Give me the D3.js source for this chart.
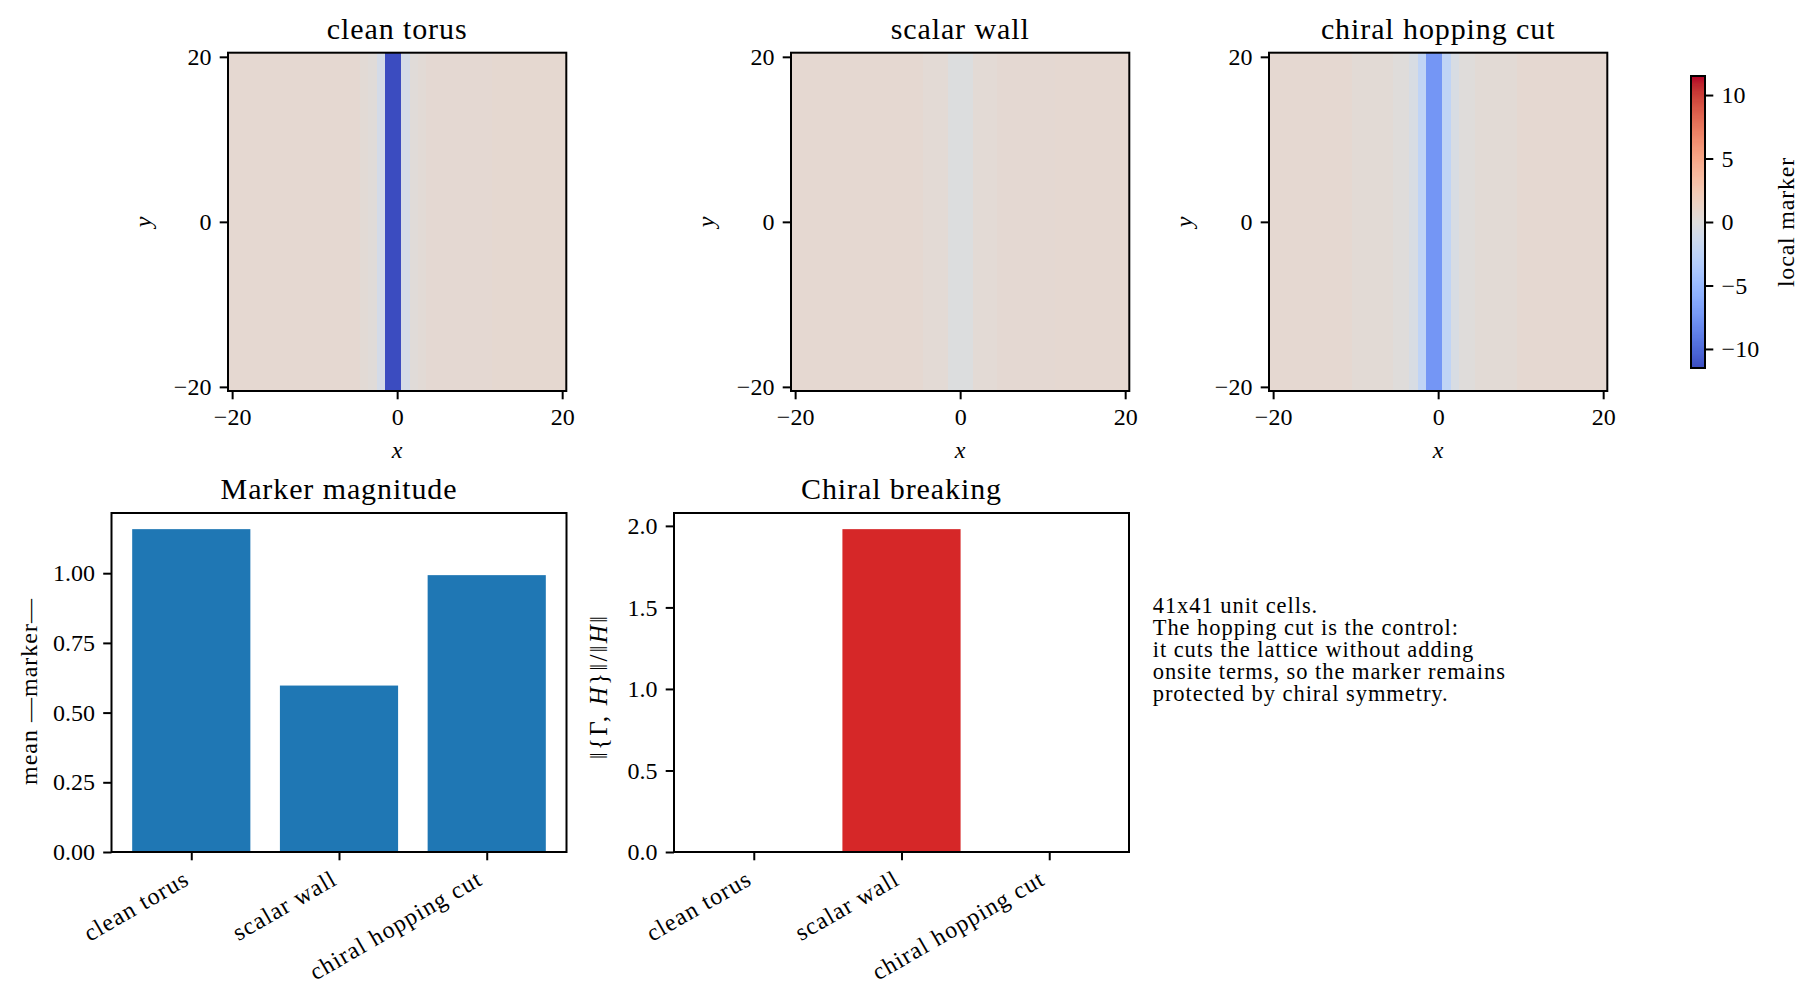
<!DOCTYPE html>
<html>
<head>
<meta charset="utf-8">
<script src="https://cdn.jsdelivr.net/npm/d3@7"></script>
<style>
  body { margin: 0; background: #fff; }
  svg text { font-family: "Liberation Serif", "DejaVu Serif", serif; fill: #000; }
</style>
</head>
<body>
<div id="chart"></div>
<script>
"use strict";
const scenarios = ["clean torus", "scalar wall", "chiral hopping cut"];
const xSites = d3.range(-20, 21);
const ySites = d3.range(-20, 21);
// local marker along x for each lattice column (every row y is the same)
const cleanTorusProfile = [0.70, 0.70, 0.70, 0.70, 0.70, 0.70, 0.70, 0.70, 0.70, 0.70, 0.70, 0.70, 0.70, 0.70, 0.70, 0.70,
  0.45, 0.30, -0.80, -11.5, -11.5, -0.80, 0.30, 0.45,
  0.65, 0.65, 0.65, 0.65, 0.65, 0.65, 0.65, 0.65,
  0.75, 0.75, 0.75, 0.75, 0.75, 0.75, 0.75, 0.75, 0.75];
const scalarWallProfile = [0.70, 0.70, 0.70, 0.70, 0.70, 0.70, 0.70, 0.70, 0.70, 0.70, 0.70, 0.70, 0.70, 0.70, 0.70, 0.70,
  0.50, 0.50, 0.50, -0.10, -0.10, -0.10, 0.50, 0.50, 0.50,
  0.65, 0.65, 0.65, 0.65, 0.65, 0.65, 0.65,
  0.72, 0.72, 0.72, 0.72, 0.72, 0.72, 0.72, 0.72, 0.72];
const hoppingCutProfile = [0.70, 0.70, 0.70, 0.70, 0.70, 0.70, 0.70, 0.70, 0.70, 0.70,
  0.45, 0.45, 0.45, 0.45, 0.45, 0.20, 0.20,
  -0.50, -2.30, -7.40, -7.40, -2.30, -0.50,
  0.20, 0.20, 0.45, 0.45, 0.45, 0.45, 0.45,
  0.70, 0.70, 0.70, 0.70, 0.70, 0.70, 0.70, 0.70, 0.70, 0.70, 0.70];
const markerMagnitude = [1.158, 0.597, 0.993];
const chiralBreaking = [0, 1.98, 0];
const heatTicks = [-20, 0, 20];
const colorbarTicks = [-10, -5, 0, 5, 10];
const magnitudeTicks = [0, 0.25, 0.5, 0.75, 1.0];
const breakingTicks = [0, 0.5, 1.0, 1.5, 2.0];
const markerLimit = 11.5;
const noteLines = [
  "41x41 unit cells.",
  "The hopping cut is the control:",
  "it cuts the lattice without adding",
  "onsite terms, so the marker remains",
  "protected by chiral symmetry."
];
// matplotlib coolwarm (Moreland) sampled at 33 points
const coolwarmColors = ["#3b4cc0", "#445acc", "#4d68d7", "#5775e1", "#6282ea", "#6c8ef1", "#779af7", "#82a5fb",
  "#8db0fe", "#98b9ff", "#a3c2ff", "#aec9fd", "#b8d0f9", "#c2d5f4", "#ccd9ee", "#d5dbe6", "#dddddd",
  "#e5d8d1", "#ecd3c5", "#f1ccb9", "#f5c4ad", "#f7bba0", "#f7b194", "#f7a687", "#f49a7b", "#f18d6f",
  "#ec7f63", "#e57058", "#de604d", "#d55042", "#cb3e38", "#c0282f", "#b40426"];

const W = 1816, H = 992;
const svg = d3.select("#chart").append("svg").attr("width", W).attr("height", H);

const serif = '"Liberation Serif", "DejaVu Serif", serif';
const tickLen = 8.3, tickPad = 8.3, lineW = 2;
const tickFont = 24, titleFont = 30, labelFont = 24;

const color = d3.scaleLinear()
  .domain(coolwarmColors.map((c, i) => -markerLimit + 2 * markerLimit * i / (coolwarmColors.length - 1)))
  .range(coolwarmColors)
  .interpolate(d3.interpolateRgb)
  .clamp(true);

const numFmt = d3.format("d");

function styleAxis(g) {
  g.attr("font-family", null).attr("font-size", null);
  g.select(".domain").remove();
  g.selectAll(".tick line").attr("stroke", "#000").attr("stroke-width", lineW);
  g.selectAll(".tick text").style("font-family", serif).style("font-size", tickFont + "px").attr("fill", "#000");
}

// ---------- heatmaps ----------
const heatTop = 52.7, heatSize = 338.3;
const heatLefts = [228, 791, 1269];
const profiles = [cleanTorusProfile, scalarWallProfile, hoppingCutProfile];

profiles.forEach((profile, k) => {
  const left = heatLefts[k];
  const x = d3.scaleLinear().domain([-20.5, 20.5]).range([left, left + heatSize]);
  const y = d3.scaleLinear().domain([-20.5, 20.5]).range([heatTop + heatSize, heatTop]);
  const g = svg.append("g");
  const cells = [];
  ySites.forEach(yy => xSites.forEach((xx, i) => cells.push({ x: xx, y: yy, v: profile[i] })));
  g.append("g").selectAll("rect").data(cells).join("rect")
    .attr("x", d => x(d.x - 0.5))
    .attr("y", d => y(d.y + 0.5))
    .attr("width", x(1) - x(0) + 0.4)
    .attr("height", y(0) - y(1) + 0.4)
    .attr("fill", d => color(d.v))
    .attr("shape-rendering", "crispEdges");

  g.append("g").attr("transform", `translate(0,${heatTop + heatSize})`)
    .call(d3.axisBottom(x).tickValues(heatTicks).tickSize(tickLen).tickPadding(tickPad).tickFormat(numFmt))
    .call(styleAxis);
  g.append("g").attr("transform", `translate(${left},0)`)
    .call(d3.axisLeft(y).tickValues(heatTicks).tickSize(tickLen).tickPadding(tickPad).tickFormat(numFmt))
    .call(styleAxis);

  g.append("rect").attr("x", left).attr("y", heatTop).attr("width", heatSize).attr("height", heatSize)
    .attr("fill", "none").attr("stroke", "#000").attr("stroke-width", lineW);

  g.append("text").attr("x", left + heatSize / 2).attr("y", 39.3).attr("text-anchor", "middle")
    .attr("font-size", titleFont).attr("letter-spacing", 0.9).text(scenarios[k]);
  g.append("text").attr("x", left + heatSize / 2).attr("y", 458).attr("text-anchor", "middle")
    .attr("font-size", labelFont).attr("font-style", "italic").text("x");
  g.append("text").attr("transform", `translate(${left - 77},${heatTop + heatSize / 2}) rotate(-90)`)
    .attr("text-anchor", "middle").attr("font-size", labelFont).attr("font-style", "italic").text("y");
});

// ---------- colorbar ----------
const cbX = 1691, cbW = 14, cbTop = 76, cbBottom = 368;
const cbScale = d3.scaleLinear().domain([-markerLimit, markerLimit]).range([cbBottom, cbTop]);
const cbStep = 2 * markerLimit / 256;
const cbSteps = d3.range(256).map(i => -markerLimit + (i + 0.5) * cbStep);
svg.append("g").selectAll("rect").data(cbSteps).join("rect")
  .attr("x", cbX).attr("width", cbW)
  .attr("y", d => cbScale(d + cbStep / 2))
  .attr("height", d => cbScale(d - cbStep / 2) - cbScale(d + cbStep / 2) + 0.5)
  .attr("fill", d => color(d))
  .attr("shape-rendering", "crispEdges");
svg.append("g").attr("transform", `translate(${cbX + cbW},0)`)
  .call(d3.axisRight(cbScale).tickValues(colorbarTicks).tickSize(tickLen).tickPadding(tickPad).tickFormat(numFmt))
  .call(styleAxis);
svg.append("rect").attr("x", cbX).attr("y", cbTop).attr("width", cbW).attr("height", cbBottom - cbTop)
  .attr("fill", "none").attr("stroke", "#000").attr("stroke-width", lineW);
svg.append("text").attr("transform", `translate(1794,${(cbTop + cbBottom) / 2}) rotate(-90)`)
  .attr("text-anchor", "middle").attr("font-size", labelFont).attr("letter-spacing", 0.8).text("local marker");

// ---------- bar charts ----------
const barTop = 513, barBottom = 852, barWidthPx = 455;
function drawBars(left, values, ticks, tickFormat, fill, title) {
  const x = d3.scaleLinear().domain([-0.54, 2.54]).range([left, left + barWidthPx]);
  const y = d3.scaleLinear().domain([0, d3.max(values) * 1.05]).range([barBottom, barTop]);
  const g = svg.append("g");
  g.append("g").selectAll("rect").data(values).join("rect")
    .attr("x", (d, i) => x(i - 0.4))
    .attr("width", x(0.8) - x(0))
    .attr("y", d => y(d))
    .attr("height", d => y(0) - y(d))
    .attr("fill", fill);

  g.append("g").attr("transform", `translate(${left},0)`)
    .call(d3.axisLeft(y).tickValues(ticks).tickSize(tickLen).tickPadding(tickPad).tickFormat(tickFormat))
    .call(styleAxis);

  const xAxis = g.append("g").attr("transform", `translate(0,${barBottom})`)
    .call(d3.axisBottom(x).tickValues([0, 1, 2]).tickSize(tickLen).tickFormat(i => scenarios[i]))
    .call(styleAxis);
  xAxis.selectAll(".tick text")
    .attr("y", null).attr("dy", null)
    .attr("text-anchor", "end")
    .attr("letter-spacing", 1.1)
    .attr("transform", d => {
      const desc = /[gpqy]/.test(scenarios[d]) ? 4.5 : 0;
      return `translate(${-1 - desc / 2},${tickLen + tickPad + 15}) rotate(-30)`;
    });

  g.append("rect").attr("x", left).attr("y", barTop).attr("width", barWidthPx).attr("height", barBottom - barTop)
    .attr("fill", "none").attr("stroke", "#000").attr("stroke-width", lineW);
  g.append("text").attr("x", left + barWidthPx / 2).attr("y", 499).attr("text-anchor", "middle")
    .attr("font-size", titleFont).attr("letter-spacing", 0.9).text(title);
  return g;
}

const g1 = drawBars(111.5, markerMagnitude, magnitudeTicks, d3.format(".2f"), "#1f77b4", "Marker magnitude");
g1.append("text").attr("transform", `translate(36.5,${(barTop + barBottom) / 2 + 9}) rotate(-90)`)
  .attr("text-anchor", "middle").attr("font-size", labelFont).attr("letter-spacing", 1)
  .text("mean \u2014marker\u2014");

const g2 = drawBars(674, chiralBreaking, breakingTicks, d3.format(".1f"), "#d62728", "Chiral breaking");
const yl2 = g2.append("text").attr("transform", `translate(607,${(barTop + barBottom) / 2 + 4}) rotate(-90)`)
  .attr("text-anchor", "middle").attr("font-size", 25).attr("letter-spacing", 2.2);
yl2.append("tspan").text("\u2016{\u0393, ");
yl2.append("tspan").attr("font-style", "italic").text("H");
yl2.append("tspan").text("}\u2016/\u2016");
yl2.append("tspan").attr("font-style", "italic").text("H");
yl2.append("tspan").text("\u2016");

// ---------- note ----------
svg.append("g").selectAll("text").data(noteLines).join("text")
  .attr("x", 1152.7)
  .attr("y", (d, i) => 612.7 + i * 22)
  .attr("font-size", 22.5)
  .attr("letter-spacing", 0.95)
  .text(d => d);
</script>
</body>
</html>
